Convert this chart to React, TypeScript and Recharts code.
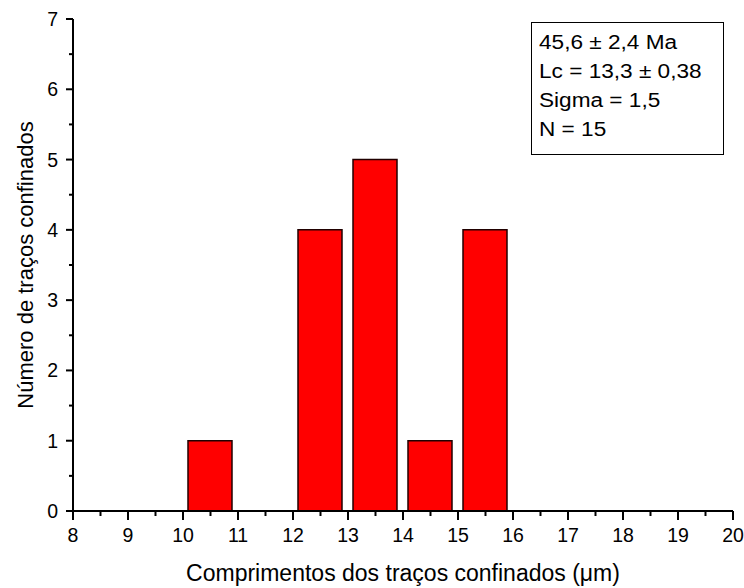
import { Bar, ComposedChart, XAxis, YAxis } from "recharts";

const FONT = "Arial, 'Liberation Sans', Helvetica, sans-serif";

// histogram bins (bin centres, µm) and counts
const lengthCenters = [10.5, 12.5, 13.5, 14.5, 15.5];
const trackCounts = [1, 4, 5, 1, 4];

const xTicks = [
  8, 8.5, 9, 9.5, 10, 10.5, 11, 11.5, 12, 12.5, 13, 13.5, 14, 14.5, 15, 15.5,
  16, 16.5, 17, 17.5, 18, 18.5, 19, 19.5, 20,
];
const yTicks = [0, 0.5, 1, 1.5, 2, 2.5, 3, 3.5, 4, 4.5, 5, 5.5, 6, 6.5, 7];

const infoLines = [
  "45,6 ± 2,4 Ma",
  "Lc = 13,3 ± 0,38",
  "Sigma = 1,5",
  "N = 15",
];

const xTitle = "Comprimentos dos traços confinados (μm)";
const yTitle = "Número de traços confinados";

type TickProps = {
  x?: number;
  y?: number;
  payload?: { value: number };
};

function XTick({ x = 0, y = 0, payload }: TickProps) {
  const v = payload?.value ?? 0;
  const major = Number.isInteger(v);
  return (
    <g>
      <line x1={x} x2={x} y1={y} y2={y + (major ? 9 : 5)} stroke="#000" strokeWidth={2} />
      {major && (
        <text x={x} y={y + 31} textAnchor="middle" fontSize={19.5} fontFamily={FONT} fill="#000">
          {v}
        </text>
      )}
    </g>
  );
}

function YTick({ x = 0, y = 0, payload }: TickProps) {
  const v = payload?.value ?? 0;
  const major = Number.isInteger(v);
  return (
    <g>
      <line x1={x} x2={x - (major ? 7 : 4)} y1={y} y2={y} stroke="#000" strokeWidth={2} />
      {major && (
        <text x={x - 15} y={y + 7} textAnchor="end" fontSize={19.5} fontFamily={FONT} fill="#000">
          {v}
        </text>
      )}
    </g>
  );
}

type LabelProps = { viewBox?: { x: number; y: number; width: number; height: number } };

function XTitle({ viewBox }: LabelProps) {
  if (!viewBox) return null;
  return (
    <text
      x={viewBox.x + viewBox.width / 2}
      y={viewBox.y + 70}
      textAnchor="middle"
      fontSize={23}
      fontFamily={FONT}
      fill="#000"
    >
      {xTitle}
    </text>
  );
}

function YTitle({ viewBox }: LabelProps) {
  if (!viewBox) return null;
  const cx = viewBox.x + 20;
  const cy = viewBox.y + viewBox.height / 2;
  return (
    <text
      x={cx}
      y={cy}
      transform={`rotate(-90, ${cx}, ${cy})`}
      textAnchor="middle"
      fontSize={22}
      fontFamily={FONT}
      fill="#000"
    >
      {yTitle}
    </text>
  );
}

export default function App() {
  const data = lengthCenters.map((x, i) => ({ x, n: trackCounts[i] }));

  return (
    <div
      style={{
        position: "absolute",
        left: 0,
        top: 0,
        width: 744,
        height: 588,
        background: "#fff",
      }}
    >
      <ComposedChart
        width={744}
        height={588}
        data={data}
        margin={{ top: 19, right: 11, bottom: 0, left: 13 }}
      >
        <XAxis
          dataKey="x"
          type="number"
          domain={[8, 20]}
          ticks={xTicks}
          interval={0}
          height={77}
          tickSize={0}
          tickMargin={0}
          tickLine={false}
          tick={<XTick />}
          axisLine={{ stroke: "#000", strokeWidth: 2 }}
          label={<XTitle />}
        />
        <YAxis
          type="number"
          domain={[0, 7]}
          ticks={yTicks}
          interval={0}
          width={60}
          tickSize={0}
          tickMargin={0}
          tickLine={false}
          tick={<YTick />}
          axisLine={{ stroke: "#000", strokeWidth: 2 }}
          label={<YTitle />}
        />
        <Bar
          dataKey="n"
          barSize={44}
          fill="#ff0000"
          stroke="#200000"
          strokeWidth={1.5}
          isAnimationActive={false}
        />
      </ComposedChart>
      <div
        style={{
          position: "absolute",
          left: 531,
          top: 22,
          width: 184,
          height: 126,
          border: "1px solid #000",
          paddingTop: 5,
          paddingLeft: 7,
          boxSizing: "content-box",
          fontFamily: FONT,
          fontSize: 20,
          lineHeight: "29px",
          color: "#000",
          background: "#fff",
        }}
      >
        {infoLines.map((t) => (
          <div
            key={t}
            style={{
              whiteSpace: "nowrap",
              transform: "scaleX(1.13)",
              transformOrigin: "left center",
            }}
          >
            {t}
          </div>
        ))}
      </div>
    </div>
  );
}
